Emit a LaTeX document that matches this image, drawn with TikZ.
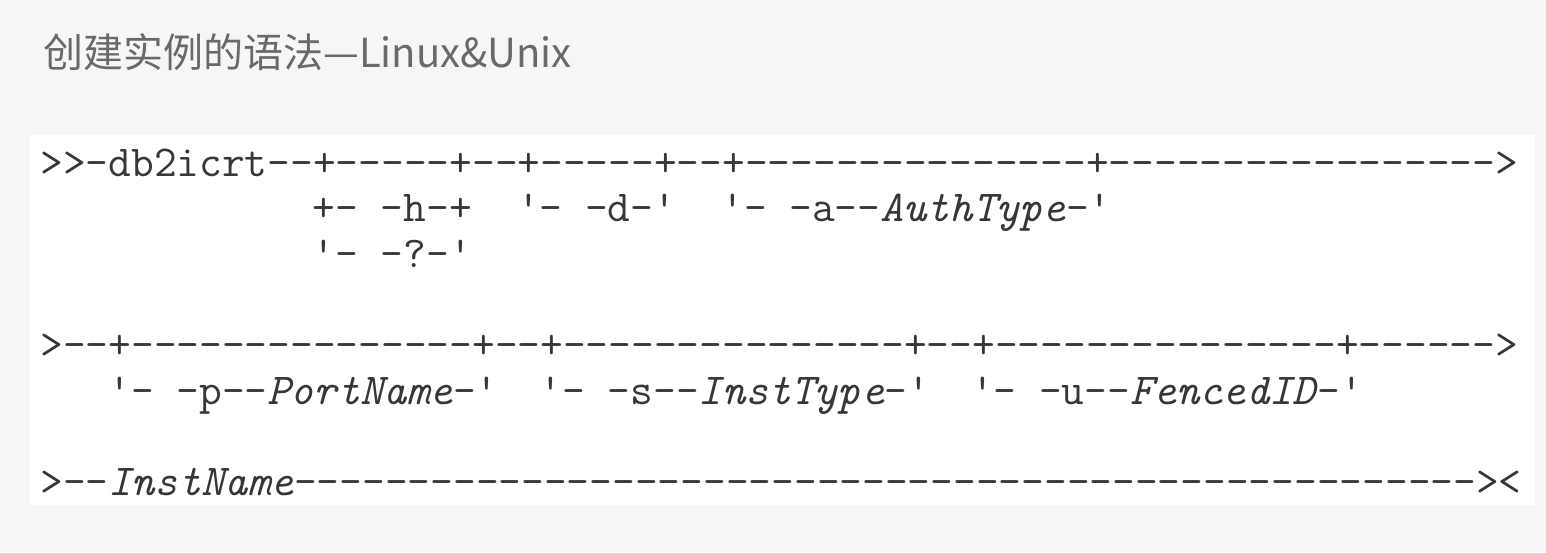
\documentclass[tikz,border=0pt]{standalone}
\usepackage{fontspec}
\newfontfamily\cjk{Noto Sans CJK SC}
\definecolor{bgc}{RGB}{246,246,246}
\definecolor{txt}{RGB}{55,55,55}
\definecolor{ttl}{RGB}{105,105,105}
\tikzset{
  code/.style={anchor=base west, inner sep=0pt, text=txt,
    font=\ttfamily\fontsize{22.07pt}{23pt}\selectfont},
  titlestyle/.style={anchor=base west, inner sep=0pt, text=ttl,
    font=\cjk\fontsize{20pt}{22pt}\selectfont}
}
\begin{document}
\begin{tikzpicture}[x=0.5pt,y=-0.5pt]
\fill[bgc] (0,0) rectangle (1546,552);
\useasboundingbox (0,0) rectangle (1546,552);
\fill[white] (30,135) rectangle (1535,505);
\node[titlestyle] (title) at (43,67) {创建实例的语法—Linux\&Unix};
% column width 22.7px, origin x=40
\def\cw{22.7}
\def\ox{40}
% row 0
\node[code] (r0) at (\ox,176) {>>-db2icrt--%
+-----+--%
+-----+--%
+---------------%
+----------------->};
% row 1
\node[code] (r1a) at (\ox+12*\cw,221.6) {+-};
\node[code] (r1b) at (\ox+15*\cw,221.6) {-h-+};
\node[code] (r1c) at (\ox+21*\cw,221.6) {'-};
\node[code] (r1d) at (\ox+24*\cw,221.6) {-d-'};
\node[code] (r1e) at (\ox+30*\cw,221.6) {'-};
\node[code] (r1f) at (\ox+33*\cw,221.6) {-a--\textit{AuthType}-'};
% row 2
\node[code] (r2a) at (\ox+12*\cw,267.2) {'-};
\node[code] (r2b) at (\ox+15*\cw,267.2) {-?-'};
% row 4
\node[code] (r4) at (\ox,358.4) {>--%
+---------------+--%
+---------------+--%
+---------------+%
------>};
% row 5
\node[code] (r5a) at (\ox+3*\cw,404) {'-};
\node[code] (r5b) at (\ox+6*\cw,404) {-p--\textit{PortName}-'};
\node[code] (r5c) at (\ox+22*\cw,404) {'-};
\node[code] (r5d) at (\ox+25*\cw,404) {-s--\textit{InstType}-'};
\node[code] (r5e) at (\ox+41*\cw,404) {'-};
\node[code] (r5f) at (\ox+44*\cw,404) {-u--\textit{FencedID}-'};
% row 7
\node[code] (r7) at (\ox,495.2) {>--\textit{InstName}%
----------%
----------%
----------%
----------%
----------%
--><};
\end{tikzpicture}
\end{document}
